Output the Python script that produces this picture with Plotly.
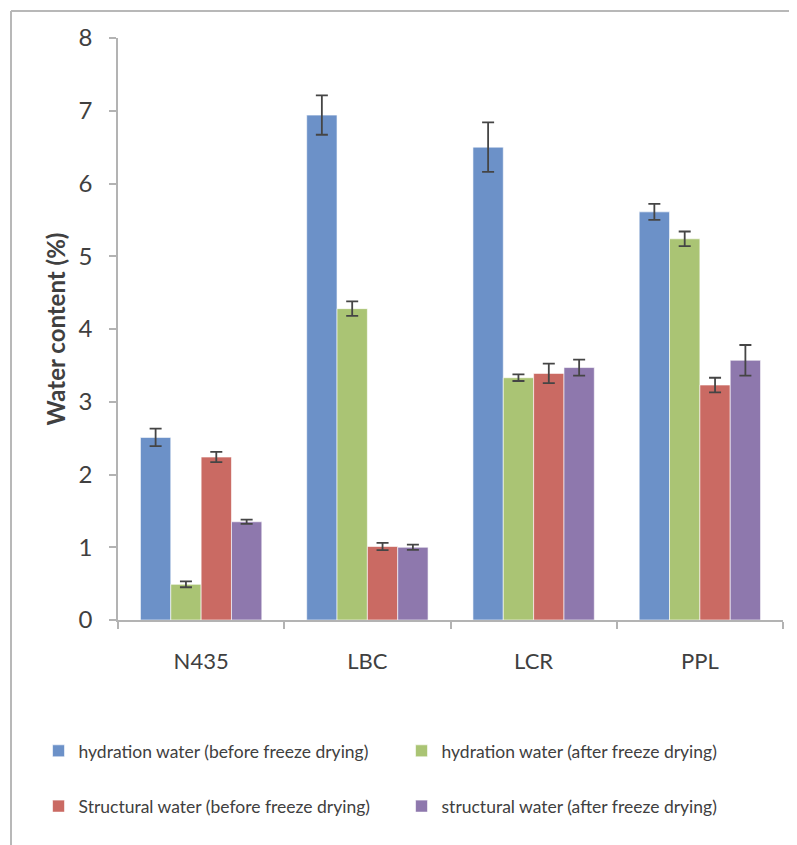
import plotly.graph_objects as go

categories = ["N435", "LBC", "LCR", "PPL"]
series_names = [
    "hydration water (before freeze drying)",
    "hydration water (after freeze drying)",
    "Structural water (before freeze drying)",
    "structural water (after freeze drying)",
]
hyd_before = [2.51, 6.94, 6.50, 5.61]
hyd_before_err = [0.12, 0.27, 0.34, 0.11]
hyd_after = [0.49, 4.28, 3.33, 5.24]
hyd_after_err = [0.04, 0.10, 0.045, 0.10]
str_before = [2.24, 1.01, 3.39, 3.23]
str_before_err = [0.07, 0.05, 0.135, 0.10]
str_after = [1.35, 1.00, 3.47, 3.57]
str_after_err = [0.03, 0.035, 0.11, 0.21]
colors = ["#6C91C8", "#AAC474", "#CA6A63", "#8E78AD"]

values = [hyd_before, hyd_after, str_before, str_after]
errors = [hyd_before_err, hyd_after_err, str_before_err, str_after_err]
legends = ["legend", "legend", "legend2", "legend2"]

FONT = "Lato, 'Open Sans', sans-serif"
TXT = "#404040"

fig = go.Figure()
for name, v, e, c, lg in zip(series_names, values, errors, colors, legends):
    fig.add_trace(go.Bar(
        x=categories, y=v, name=name,
        marker=dict(color=c, line=dict(color="rgba(255,255,255,0.6)", width=1)),
        error_y=dict(type="data", array=e, visible=True, color="#454545",
                     thickness=1.8, width=6),
        legend=lg,
    ))

axis_col = "#B3B3B3"
fig.update_layout(
    width=797, height=845,
    margin=dict(l=110, r=22, t=30, b=233),
    paper_bgcolor="white", plot_bgcolor="white",
    barmode="group", bargap=0.27, bargroupgap=0,
    font=dict(family=FONT, color=TXT),
    showlegend=True,
    legend=dict(orientation="h", x=-0.1195, y=-0.225, xanchor="left", yanchor="middle",
                font=dict(size=17.5, color=TXT), entrywidth=318, entrywidthmode="pixels",
                bgcolor="rgba(0,0,0,0)"),
    legend2=dict(orientation="h", x=-0.1195, y=-0.32, xanchor="left", yanchor="middle",
                 font=dict(size=17.5, color=TXT), entrywidth=318, entrywidthmode="pixels",
                 bgcolor="rgba(0,0,0,0)"),
    xaxis=dict(
        showline=True, linecolor=axis_col, linewidth=1.5,
        ticks="outside", tickson="boundaries", ticklen=7, tickcolor=axis_col, tickwidth=1.5,
        tickfont=dict(size=22, color=TXT, family=FONT), ticklabelstandoff=21,
        showgrid=False, zeroline=False,
    ),
    yaxis=dict(
        range=[0, 8], dtick=1, tick0=0,
        showline=True, linecolor=axis_col, linewidth=1.5,
        ticks="outside", ticklen=7, tickcolor=axis_col, tickwidth=1.5,
        tickfont=dict(size=24, color=TXT, family=FONT), ticklabelstandoff=12,
        showgrid=False, zeroline=False,
        title=dict(text="<b>Water content (%)</b>", font=dict(size=24, color=TXT, family=FONT),
                   standoff=6),
    ),
)

# outer chart frame (only left and top edges visible in the crop)
frame_col = "#B8B8B8"
fig.add_shape(type="line", xref="paper", yref="paper",
              x0=(11 - 118) / 665, x1=(11 - 118) / 665, y0=(620 - 11) / 582, y1=(620 - 900) / 582,
              line=dict(color=frame_col, width=2))
fig.add_shape(type="line", xref="paper", yref="paper",
              x0=(11 - 118) / 665, x1=(900 - 118) / 665, y0=(620 - 11) / 582, y1=(620 - 11) / 582,
              line=dict(color=frame_col, width=2))

fig.write_html("out.html")
